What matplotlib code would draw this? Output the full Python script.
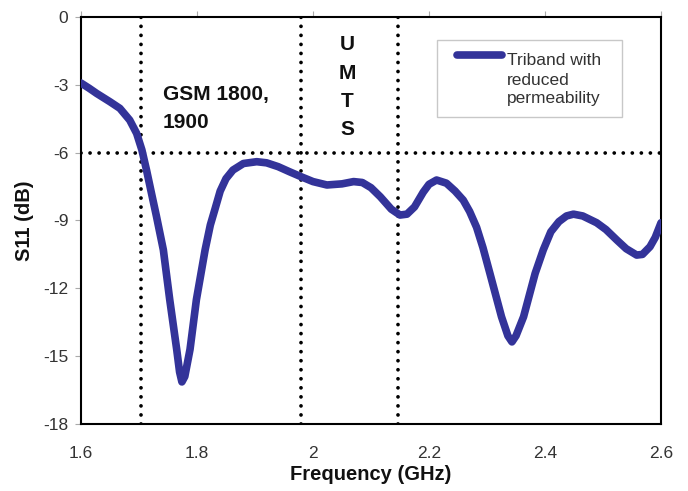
import matplotlib
matplotlib.use("Agg")
import matplotlib.pyplot as plt
from matplotlib.patches import Rectangle
from matplotlib.lines import Line2D

plt.rcParams['font.family'] = ['Liberation Sans', 'DejaVu Sans']
plt.rcParams['axes.unicode_minus'] = False

freq = [1.600, 1.614, 1.627, 1.650, 1.667, 1.684, 1.696, 1.705, 1.713, 1.722,
        1.730, 1.742, 1.753, 1.765, 1.770, 1.774, 1.779, 1.788, 1.799, 1.814,
        1.823, 1.831, 1.840, 1.850, 1.862, 1.880, 1.903, 1.920, 1.940, 1.960,
        1.980, 2.000, 2.024, 2.050, 2.070, 2.085, 2.100, 2.116, 2.135, 2.150,
        2.162, 2.175, 2.190, 2.200, 2.213, 2.230, 2.245, 2.259, 2.270, 2.282,
        2.293, 2.305, 2.325, 2.336, 2.343, 2.350, 2.363, 2.383, 2.397, 2.410,
        2.424, 2.437, 2.449, 2.465, 2.489, 2.505, 2.524, 2.540, 2.558, 2.568,
        2.581, 2.590, 2.600]
s11 = [-2.92, -3.15, -3.38, -3.75, -4.04, -4.56, -5.15, -5.88, -6.77, -7.85,
       -8.80, -10.30, -12.50, -14.70, -15.70, -16.14, -15.90, -14.70, -12.50, -10.30,
       -9.20, -8.50, -7.70, -7.15, -6.77, -6.48, -6.40, -6.45, -6.62, -6.85,
       -7.07, -7.28, -7.43, -7.38, -7.28, -7.32, -7.55, -7.95, -8.50, -8.76,
       -8.72, -8.40, -7.75, -7.40, -7.21, -7.35, -7.70, -8.10, -8.60, -9.30,
       -10.20, -11.34, -13.26, -14.10, -14.37, -14.10, -13.26, -11.34, -10.30, -9.50,
       -9.05, -8.80, -8.72, -8.80, -9.10, -9.40, -9.87, -10.25, -10.53, -10.50,
       -10.16, -9.75, -9.10]

band_edges = [1.703, 1.98, 2.146]
threshold = -6

xticks = [1.6, 1.8, 2.0, 2.2, 2.4, 2.6]
xticklabels = ['1.6', '1.8', '2', '2.2', '2.4', '2.6']
yticks = [0, -3, -6, -9, -12, -15, -18]

legend_lines = ['Triband with', 'reduced', 'permeability']
line_color = '#333399'

fig = plt.figure(figsize=(6.88, 4.91), dpi=100)
ax = fig.add_axes([0.1177, 0.1365, 0.8431, 0.8289])

dot = (0, (0.01, 2.4))
for xe in band_edges:
    ax.axvline(xe, color='black', lw=2.7, linestyle=dot, dash_capstyle='round', zorder=2)
ax.axhline(threshold, color='black', lw=2.7, linestyle=dot, dash_capstyle='round', zorder=2)

ax.plot(freq, s11, color=line_color, lw=5.5, solid_capstyle='round',
        solid_joinstyle='round', zorder=3)

ax.set_xlim(1.6, 2.6)
ax.set_ylim(-18, 0)
ax.set_xticks(xticks)
ax.set_xticklabels(xticklabels)
ax.set_yticks(yticks)
ax.tick_params(axis='both', labelsize=12.5, length=4, width=0.8)
ax.tick_params(axis='x', top=True, bottom=False, labeltop=False, labelbottom=True,
               direction='out', colors='#aaaaaa', labelcolor='#333333', pad=12)
ax.tick_params(axis='y', direction='out', colors='#aaaaaa', labelcolor='#333333', pad=5)

for sp in ax.spines.values():
    sp.set_color('black')
    sp.set_linewidth(1.5)

ax.set_xlabel('Frequency (GHz)', fontsize=14.5, fontweight='bold', labelpad=3,
              color='#111111')
ax.set_ylabel('S11 (dB)', fontsize=14.5, fontweight='bold', labelpad=7,
              color='#111111')

ax.text(1.741, -3.67, 'GSM 1800,', fontsize=15, fontweight='bold', ha='left',
        va='baseline', color='#111111')
ax.text(1.741, -4.91, '1900', fontsize=15, fontweight='bold', ha='left',
        va='baseline', color='#111111')
for letter, yb in zip(['U', 'M', 'T', 'S'], [-1.46, -2.74, -3.98, -5.22]):
    ax.text(2.059, yb, letter, fontsize=15, fontweight='bold', ha='center',
            va='baseline', color='#111111')

# legend box (drawn manually to match the layout)
ax.add_patch(Rectangle((0.614, 0.754), 0.319, 0.1895, transform=ax.transAxes,
                       facecolor='white', edgecolor='#c8c8c8', lw=1.0, zorder=4))
ax.add_line(Line2D([0.648, 0.726], [0.9066, 0.9066], transform=ax.transAxes,
                   color=line_color, lw=5.5, solid_capstyle='round', zorder=5))
for txt, yb in zip(legend_lines, [0.882, 0.833, 0.789]):
    ax.text(0.734, yb, txt, transform=ax.transAxes, fontsize=12.5, ha='left',
            va='baseline', color='#333333', zorder=5)

fig.savefig('out.png', dpi=100)
